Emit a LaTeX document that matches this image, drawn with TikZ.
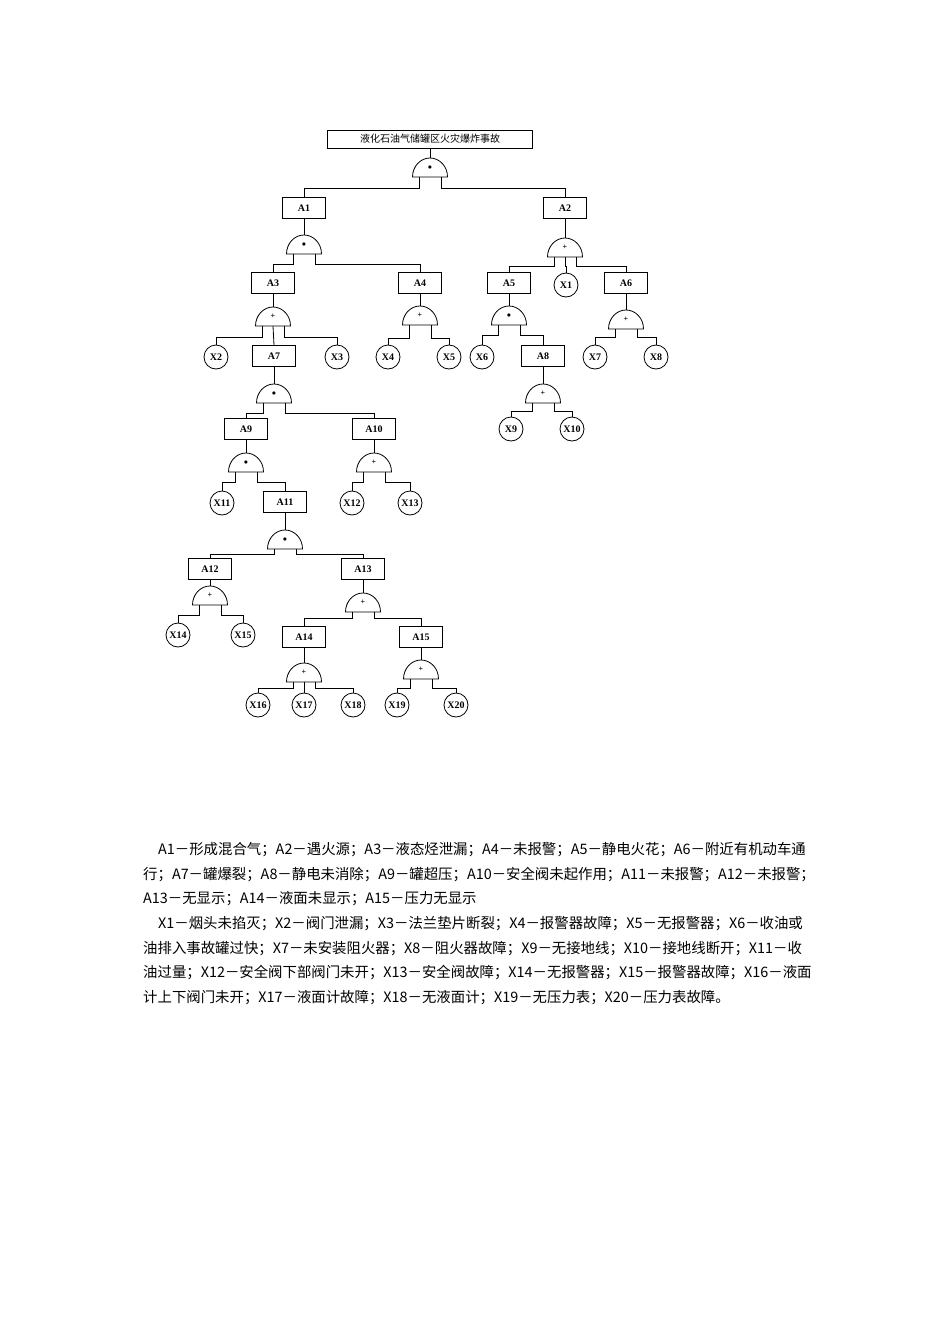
\documentclass[tikz,border=0pt]{standalone}
\usepackage{fontspec}
\setmainfont{Liberation Serif}
\newfontfamily\cjk{Noto Sans CJK SC}
\usetikzlibrary{calc}
\tikzset{
  evt/.style={draw, thick, minimum width=43pt, minimum height=21pt, inner sep=0pt, font=\bfseries\fontsize{10}{10}\selectfont},
  leaf/.style={draw, thick, circle, minimum size=24pt, inner sep=0pt, font=\bfseries\fontsize{10}{10}\selectfont},
  gate/.style={minimum width=35pt, minimum height=19pt, inner sep=0pt, anchor=south, font=\bfseries\fontsize{8}{8}\selectfont},
  wire/.style={thick}
}
\begin{document}
\begin{tikzpicture}[x=1pt,y=-1pt]
\useasboundingbox (0,0) rectangle (950,1344);
\node[evt, minimum width=205pt, minimum height=18pt, font=\cjk\fontsize{10}{10}\selectfont] (top) at (430,139) {液化石油气储罐区火灾爆炸事故};
% events
\node[evt] (a1) at (304,208) {A1};
\node[evt] (a2) at (565,208) {A2};
\node[evt] (a3) at (273,283) {A3};
\node[evt] (a4) at (420,283) {A4};
\node[evt] (a5) at (509,283) {A5};
\node[evt] (a6) at (626,283) {A6};
\node[evt] (a7) at (274,356) {A7};
\node[evt] (a8) at (543,356) {A8};
\node[evt] (a9) at (246,429) {A9};
\node[evt] (a10) at (374,429) {A10};
\node[evt] (a11) at (285,502) {A11};
\node[evt] (a12) at (210,569) {A12};
\node[evt] (a13) at (363,569) {A13};
\node[evt] (a14) at (304,637) {A14};
\node[evt] (a15) at (421,637) {A15};
% basic events
\node[leaf] (x1) at (566,285) {X1};
\node[leaf] (x2) at (216,357) {X2};
\node[leaf] (x3) at (337,357) {X3};
\node[leaf] (x4) at (388,357) {X4};
\node[leaf] (x5) at (449,357) {X5};
\node[leaf] (x6) at (482,357) {X6};
\node[leaf] (x7) at (595,357) {X7};
\node[leaf] (x8) at (656,357) {X8};
\node[leaf] (x9) at (511,429) {X9};
\node[leaf] (x10) at (572,429) {X10};
\node[leaf] (x11) at (222,503) {X11};
\node[leaf] (x12) at (352,503) {X12};
\node[leaf] (x13) at (410,503) {X13};
\node[leaf] (x14) at (178,635) {X14};
\node[leaf] (x15) at (243,635) {X15};
\node[leaf] (x16) at (258,705) {X16};
\node[leaf] (x17) at (304,705) {X17};
\node[leaf] (x18) at (353,705) {X18};
\node[leaf] (x19) at (397,705) {X19};
\node[leaf] (x20) at (456,705) {X20};
% gates
\node[gate] (g0) at (430,177) {$\bullet$};
\node[gate] (g1) at (304,254) {$\bullet$};
\node[gate] (g2) at (565,257) {+};
\node[gate] (g3) at (273,326) {+};
\node[gate] (g4) at (420,325) {+};
\node[gate] (g5) at (509,325) {$\bullet$};
\node[gate] (g6) at (626,329) {+};
\node[gate] (g7) at (274,403) {$\bullet$};
\node[gate] (g8) at (543,403) {+};
\node[gate] (g9) at (246,472) {$\bullet$};
\node[gate] (g10) at (374,472) {+};
\node[gate] (g11) at (285,549) {$\bullet$};
\node[gate] (g12) at (210,605) {+};
\node[gate] (g13) at (363,612) {+};
\node[gate] (g14) at (304,682) {+};
\node[gate] (g15) at (421,679) {+};
\foreach \g in {g0,g1,g2,g3,g4,g5,g6,g7,g8,g9,g10,g11,g12,g13,g14,g15}
  \draw[thick] ([xshift=-17.5pt]\g.south) arc[start angle=180, end angle=0, x radius=17.5pt, y radius=19pt] -- cycle;
% parent to gate
\foreach \p/\g in {top/g0,a1/g1,a2/g2,a3/g3,a4/g4,a5/g5,a6/g6,a7/g7,a8/g8,a9/g9,a10/g10,a11/g11,a12/g12,a13/g13,a14/g14,a15/g15}
  \draw[wire] (\p.south) -- (\g.north);
% gate to inputs
\foreach \g/\l/\r/\d in {g0/a1/a2/11,g1/a3/a4/10,g2/a5/a6/9,g3/x2/x3/11,g4/x4/x5/13,g5/x6/a8/10,g6/x7/x8/8,g7/a9/a10/10,g8/x9/x10/8,g9/x11/a11/10,g10/x12/x13/10,g11/a12/a13/5,g12/x14/x15/10,g13/a14/a15/6,g14/x16/x18/6,g15/x19/x20/9}{
  \draw[wire] ([xshift=-11pt]\g.south) -- ++(0,\d) -| (\l.north);
  \draw[wire] ([xshift=11pt]\g.south) -- ++(0,\d) -| (\r.north);
}
\draw[wire] (g2.south) -- ++(0,9) -| (x1.north);
\draw[wire] (g3.south) -- (a7.north);
\draw[wire] (g14.south) -- (x17.north);
% legend
\node[anchor=north west, align=left, inner sep=0pt, font=\cjk\fontsize{14.4}{24.7}\selectfont] (legend) at (143,842) {%
\hspace*{15pt}A1－形成混合气；A2－遇火源；A3－液态烃泄漏；A4－未报警；A5－静电火花；A6－附近有机动车通\\
行；A7－罐爆裂；A8－静电未消除；A9－罐超压；A10－安全阀未起作用；A11－未报警；A12－未报警；\\
A13－无显示；A14－液面未显示；A15－压力无显示\\
\hspace*{15pt}X1－烟头未掐灭；X2－阀门泄漏；X3－法兰垫片断裂；X4－报警器故障；X5－无报警器；X6－收油或\\
油排入事故罐过快；X7－未安装阻火器；X8－阻火器故障；X9－无接地线；X10－接地线断开；X11－收\\
油过量；X12－安全阀下部阀门未开；X13－安全阀故障；X14－无报警器；X15－报警器故障；X16－液面\\
计上下阀门未开；X17－液面计故障；X18－无液面计；X19－无压力表；X20－压力表故障。};
\end{tikzpicture}
\end{document}
